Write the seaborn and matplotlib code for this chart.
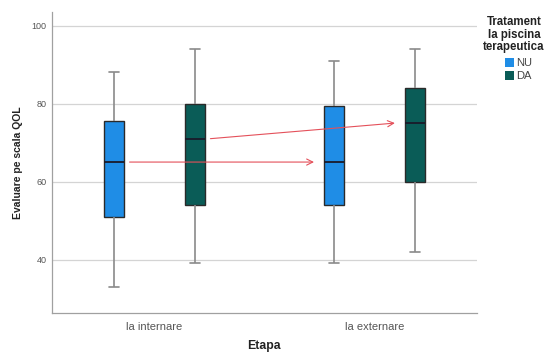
import numpy as np
import pandas as pd
import seaborn as sns
import matplotlib
matplotlib.use("Agg")
import matplotlib.pyplot as plt
from matplotlib.patches import Patch

# Five-number summaries (min, Q1, median, Q3, max) per stage and group
etape = ["la internare", "la externare"]
grupuri = ["NU", "DA"]
nu_internare = [33, 51, 65, 75.5, 88]
da_internare = [39, 54, 71, 80, 94]
nu_externare = [39, 54, 65, 79.5, 91]
da_externare = [42, 60, 75, 84, 94]
y_ticks = [40, 60, 80, 100]

culori = {"NU": "#1f8de6", "DA": "#0a5c57"}

rows = []
for etapa, grup, vals in [
    ("la internare", "NU", nu_internare),
    ("la internare", "DA", da_internare),
    ("la externare", "NU", nu_externare),
    ("la externare", "DA", da_externare),
]:
    for v in vals:
        rows.append({"Etapa": etapa, "Tratament": grup, "QOL": v})
df = pd.DataFrame(rows)

sns.set_theme(style="white")
plt.rcParams["font.family"] = ["Liberation Sans", "DejaVu Sans"]

fig = plt.figure(figsize=(5.48, 3.54), dpi=100)
ax = fig.add_axes([0.095, 0.115, 0.775, 0.85])

box_w = 0.735
box_gap = 0.75
sns.boxplot(
    data=df, x="Etapa", y="QOL", hue="Tratament",
    order=etape, hue_order=grupuri, palette=culori,
    whis=(0, 100), width=box_w, gap=box_gap, dodge=True,
    linewidth=1.0, linecolor="#222222", saturation=1,
    legend=False, ax=ax,
    whiskerprops=dict(color="#8a8a8a", linewidth=1.2),
    capprops=dict(color="#8a8a8a", linewidth=1.2),
    medianprops=dict(color="#1a1a2a", linewidth=1.3),
    boxprops=dict(edgecolor="#2a2a2a"),
)

ax.set_xlim(-0.465, 1.465)
ax.set_ylim(26.2, 103.4)
ax.set_yticks(y_ticks)
ax.yaxis.grid(True, color="#d4d4d4", linewidth=0.9)
ax.set_axisbelow(True)
for s in ["top", "right"]:
    ax.spines[s].set_visible(False)
for s in ["left", "bottom"]:
    ax.spines[s].set_color("#a0a0a0")
    ax.spines[s].set_linewidth(0.9)
ax.tick_params(axis="both", length=0, labelsize=6.5, colors="#555555", pad=4)
ax.tick_params(axis="x", labelsize=8, pad=6)
ax.set_xlabel("Etapa", fontsize=8.8, fontweight="bold", color="#222222", labelpad=6)
ax.set_ylabel("Evaluare pe scala QOL", fontsize=7.5, fontweight="bold", color="#222222", labelpad=6)

# Arrows linking medians between stages
offset = box_w / 4
half_box = box_w / 2 * (1 - box_gap) / 2
med = {("la internare", "NU"): nu_internare[2], ("la internare", "DA"): da_internare[2],
       ("la externare", "NU"): nu_externare[2], ("la externare", "DA"): da_externare[2]}
for grup, sgn in [("NU", -1), ("DA", 1)]:
    x0 = 0 + sgn * offset + half_box + 0.025
    x1 = 1 + sgn * offset - half_box - 0.045
    ax.annotate("", xy=(x1, med[("la externare", grup)]),
                xytext=(x0, med[("la internare", grup)]),
                arrowprops=dict(arrowstyle="->", color="#e4505a", lw=0.8,
                                mutation_scale=11, shrinkA=0, shrinkB=0))

# Legend: centred bold title above square swatches
fig.text(514 / 548, 1 - 16 / 354, "Tratament\nla piscina\nterapeutica",
         ha="center", va="top", fontsize=8.3, fontweight="bold",
         color="#222222", linespacing=1.08, multialignment="center")
handles = [Patch(facecolor=culori[g], edgecolor="none", label=g) for g in grupuri]
leg = fig.legend(handles=handles, loc="upper left",
                 bbox_to_anchor=(505 / 548, 1 - 58 / 354), frameon=False,
                 fontsize=8, handlelength=0.85, handleheight=0.85,
                 handletextpad=0.15, labelspacing=0.25, borderaxespad=0, borderpad=0)
for t in leg.get_texts():
    t.set_color("#444444")

fig.savefig("out.png", dpi=100)
